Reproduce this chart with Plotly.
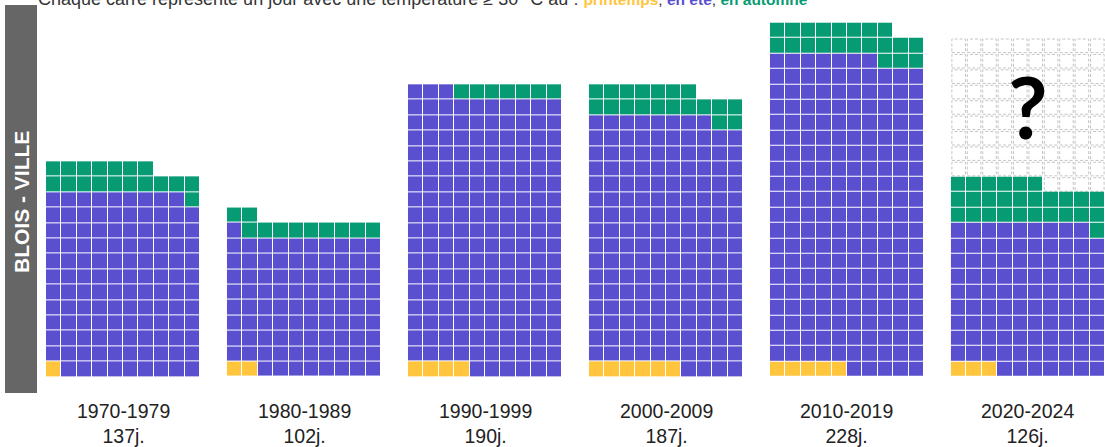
import plotly.graph_objects as go

# jours >= 30 °C par décennie, Blois - ville
decades = ["1970-1979", "1980-1989", "1990-1999", "2000-2009", "2010-2019", "2020-2024"]
printemps = [1, 2, 4, 6, 5, 3]
ete = [118, 89, 179, 162, 202, 96]
automne = [18, 11, 7, 19, 21, 27]
# grille projetée (cases vides en pointillés) pour la décennie en cours
projection = [0, 0, 0, 0, 0, 220]

COLS = 10
STEP = 11.75          # décalage entre deux blocs, en cases
YELLOW = "#FFC53D"
PURPLE = "#5A4FCF"
GREEN = "#079B74"

W, H = 1105, 447
L, R, T, B = 46, 0, 22, 70
pw, ph = W - L - R, H - T - B
xmax = 5 * STEP + COLS
unit = pw / xmax
ymax = ph / unit


def px_x(p):
    return (p - L) / pw


def px_y(p):
    return (H - B - p) / ph


fig = go.Figure()
shapes = []
annotations = []

for i, dec in enumerate(decades):
    cats = [0] * printemps[i] + [1] * ete[i] + [2] * automne[i]
    total = len(cats)
    nrows = -(-total // COLS)
    z = [[None] * COLS for _ in range(nrows)]
    for k, c in enumerate(cats):
        z[k // COLS][k % COLS] = c
    x0 = i * STEP
    fig.add_trace(go.Heatmap(
        z=z,
        x0=x0 + 0.5, dx=1,
        y0=0.5, dy=1,
        zmin=0, zmax=2,
        colorscale=[[0, YELLOW], [0.25, YELLOW], [0.25, PURPLE],
                    [0.75, PURPLE], [0.75, GREEN], [1, GREEN]],
        showscale=False,
        xgap=1, ygap=1,
        hoverinfo="skip",
    ))

    # cases vides (projection)
    for k in range(total, projection[i]):
        cx = x0 + k % COLS
        cy = k // COLS
        shapes.append(dict(
            type="rect", xref="x", yref="y",
            x0=cx + 0.06, x1=cx + 0.94, y0=cy + 0.06, y1=cy + 0.94,
            line=dict(color="#C4C4C4", width=1, dash="3px,2px"),
            fillcolor="rgba(0,0,0,0)", layer="below",
        ))

    annotations.append(dict(
        x=x0 + COLS / 2, xref="x",
        y=px_y(423.5), yref="paper",
        text=f"{dec}<br>{total}j.",
        showarrow=False, xanchor="center", yanchor="middle",
        font=dict(family="Liberation Sans, Arial", size=19.5, color="#222222"),
    ))

# point d'interrogation sur la décennie incomplète
annotations.append(dict(
    x=5 * STEP + 5.0, xref="x", y=px_y(105), yref="paper",
    text="<b>?</b>", showarrow=False, xanchor="center", yanchor="middle",
    font=dict(family="Lato, Roboto, Arial", size=86, color="#000000"),
))

# bandeau vertical
shapes.append(dict(
    type="rect", xref="paper", yref="paper",
    x0=px_x(5), x1=px_x(37), y0=px_y(393), y1=px_y(5),
    fillcolor="#666666", line=dict(width=0), layer="below",
))
annotations.append(dict(
    x=px_x(21), xref="paper", y=px_y(202), yref="paper",
    text="<b>BLOIS - VILLE</b>", textangle=-90, showarrow=False,
    xanchor="center", yanchor="middle",
    font=dict(family="Liberation Sans, Arial", size=21, color="#FFFFFF"),
))

# sous-titre (coupé en haut)
annotations.append(dict(
    x=px_x(36), xref="paper", y=px_y(-1), yref="paper",
    text=("Chaque carré représente un jour avec une température ≥ 30 °C au : "
          f"<span style='color:{YELLOW};font-size:15.5px'><b>printemps</b></span>"
          "<span style='font-size:15.5px'>, </span>"
          f"<span style='color:{PURPLE};font-size:15.5px'><b>en été</b></span>"
          "<span style='font-size:15.5px'>, </span>"
          f"<span style='color:{GREEN};font-size:15.5px'><b>en automne</b></span>"),
    showarrow=False, xanchor="left", yanchor="middle",
    font=dict(family="Liberation Sans, Arial", size=18, color="#333333"),
))

fig.update_layout(
    width=W, height=H,
    margin=dict(l=L, r=R, t=T, b=B),
    paper_bgcolor="white", plot_bgcolor="white",
    xaxis=dict(range=[0, xmax], visible=False, fixedrange=True),
    yaxis=dict(range=[0, ymax], visible=False, fixedrange=True),
    shapes=shapes,
    annotations=annotations,
    showlegend=False,
)

fig.write_html("out.html", config={"displayModeBar": False},
               post_script="document.body.style.margin='0px';")
